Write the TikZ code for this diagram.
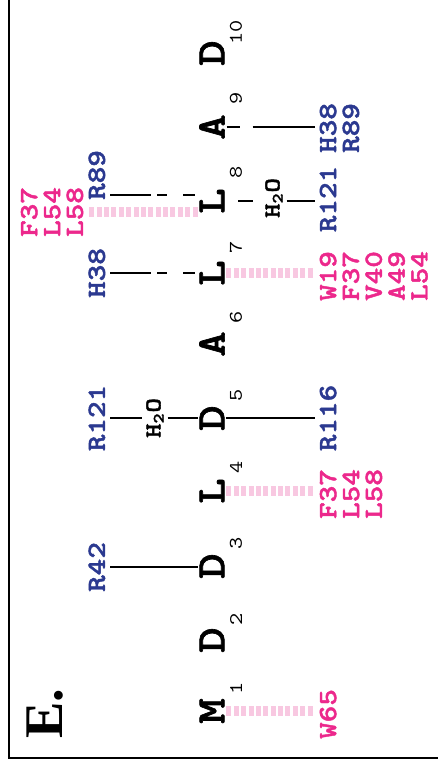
\documentclass[tikz,border=0pt]{standalone}
\usepackage{fontspec}
\usepackage{xcolor}
\usepackage{tikz}
\usetikzlibrary{positioning}
\newfontfamily\courbf[FakeStretch=1.2, FakeBold=1.6]{lmmonolt10-bold.otf}
\newfontfamily\cour[FakeStretch=1.2]{lmmono10-regular.otf}
\newfontfamily\timesf{Liberation Serif}
\definecolor{resblue}{RGB}{43,57,144}
\definecolor{respink}{RGB}{236,40,140}
\definecolor{hydro}{RGB}{248,200,225}

\begin{document}
\begin{tikzpicture}[
  x=0.02cm, y=-0.02cm,
  res/.style={font=\courbf\fontsize{23}{23}\selectfont, rotate=90, inner sep=1pt},
  idx/.style={font=\cour\fontsize{11}{11}\selectfont, rotate=90, inner sep=0pt},
  partner/.style={font=\courbf\fontsize{15}{13}\selectfont, rotate=90, align=left, inner sep=2.5pt},
  blu/.style={partner, text=resblue},
  pnk/.style={partner, text=respink},
  wat/.style={font=\courbf\fontsize{13}{13}\selectfont, rotate=90, inner sep=2pt},
  bond/.style={line width=1.1pt},
  hbond/.style={bond, dash pattern=on 7.4pt off 7.4pt on 200pt off 1pt},
  longbond/.style={bond, shorten <=1.5pt, dash pattern=on 6.8pt off 9.1pt on 5.7pt off 3.4pt on 200pt off 1pt},
  vdw/.style={draw=hydro, line width=5.7pt, dash pattern=on 2.8pt off 1.4pt}
]
\useasboundingbox (0,0) rectangle (438,772);
\draw[line width=1.4pt] (9,0) -- (9,758) -- (438,758);
\node[font=\timesf\bfseries\fontsize{31}{31}\selectfont, rotate=90, inner sep=0pt] (panel) at (45,714) {E.};

% peptide
\node[res] (M1) at (212,711) {M};
\node[res] (D2) at (212,640) {D};
\node[res] (D3) at (212,566) {D};
\node[res] (L4) at (212,491) {L};
\node[res] (D5) at (212,418) {D};
\node[res] (A6) at (212,344) {A};
\node[res] (L7) at (212,273) {L};
\node[res] (L8) at (212,201) {L};
\node[res] (A9) at (212,127) {A};
\node[res] (D10) at (212,53) {D};
\node[idx] (n1) at (236,688) {1};
\node[idx] (n2) at (236,619) {2};
\node[idx] (n3) at (236,543) {3};
\node[idx] (n4) at (236,467) {4};
\node[idx] (n5) at (236,395) {5};
\node[idx] (n6) at (236,317) {6};
\node[idx] (n7) at (236,247) {7};
\node[idx] (n8) at (236,172) {8};
\node[idx] (n9) at (236,98) {9};
\node[idx] (n10) at (236,32) {10};

% partners, left side
\node[blu, anchor=south] (R42) at (110,567) {R42};
\node[blu, anchor=south] (R121a) at (110,418) {R121};
\node[blu, anchor=south] (H38a) at (110,273) {H38};
\node[blu, anchor=south] (R89a) at (110,175) {R89};
\node[pnk, anchor=south] (hyd8) at (88,212) {F37\\L54\\L58};
\node[wat] (w5) at (155,418) {H\textsubscript{2}O};

% partners, right side
\node[pnk, anchor=north] (W65) at (315,714) {W65};
\node[pnk, anchor=north] (hyd4) at (315,494) {F37\\L54\\L58};
\node[blu, anchor=north] (R116) at (315,418) {R116};
\node[pnk, anchor=north] (hyd7) at (315,276) {W19\\F37\\V40\\A49\\L54};
\node[blu, anchor=north] (R121b) at (315,199) {R121};
\node[blu, anchor=north] (HR9) at (315,128) {H38\\R89};
\node[wat] (w8) at (274,198) {H\textsubscript{2}O};

\draw[bond] (R42.south) -- (R42.south -| D3.north);
\draw[bond] (R121a.south) -- (R121a.south -| w5.north);
\draw[bond] (w5.south |- R121a.south) -- (R121a.south -| D5.north);
\draw[bond] (R116.north -| D5.south) -- (R116.north);

\draw[vdw] (M1.south) -- (M1.south -| W65.north);
\draw[vdw] (L4.south) -- (L4.south -| hyd4.north);
\draw[vdw] (L7.south) -- (L7.south -| hyd7.north);
\draw[vdw] ([yshift=-6.3pt]L8.north) -- ([yshift=-6.3pt]L8.north -| hyd8.south);

\draw[longbond] (L7.north) -- (L7.north -| H38a.south);
\draw[longbond] ([yshift=3.4pt]L8.north) -- ([yshift=3.4pt]L8.north -| R89a.south);
\draw[hbond] (A9.south) -- (A9.south -| HR9.north);

\draw[bond, shorten <=6.8pt, shorten >=5pt] (L8.south) -- (L8.south -| w8.north);
\draw[bond] (L8.south -| w8.south) -- (L8.south -| R121b.north);
\end{tikzpicture}
\end{document}
